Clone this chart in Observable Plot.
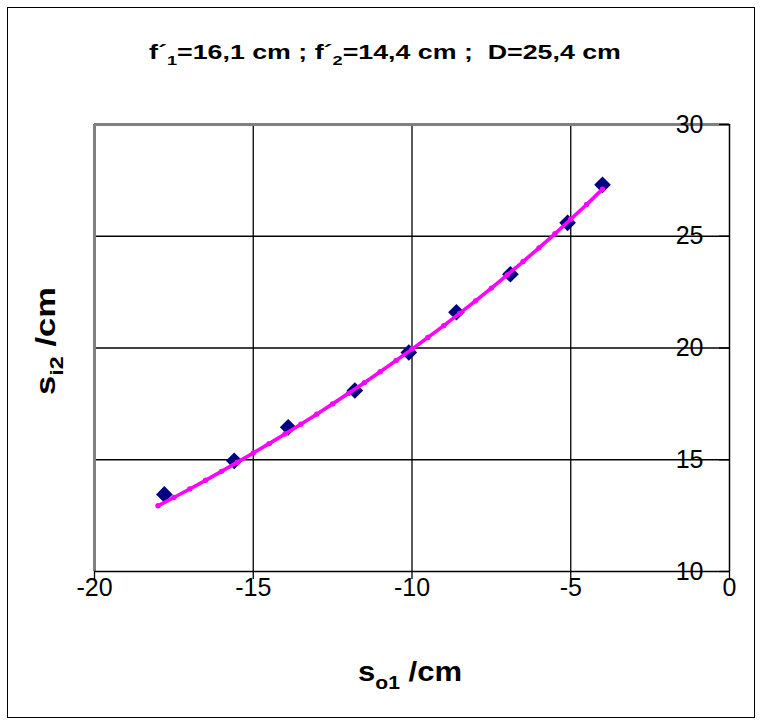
<!DOCTYPE html>
<html><head><meta charset="utf-8">
<script src="https://cdn.jsdelivr.net/npm/d3@7"></script>
<script src="https://cdn.jsdelivr.net/npm/@observablehq/plot@0.6"></script>
<style>body{margin:0;background:#fff;} #chart{position:relative;width:761px;height:724px;}</style>
</head><body><div id="chart"></div>
<script>
const xTicks = [-20, -15, -10, -5, 0];
const yTicks = [10, 15, 20, 25, 30];
const xGrid = [-15, -10, -5];
const yGrid = [15, 20, 25];
const measX = [-17.8, -15.6, -13.9, -11.8, -10.1, -8.6, -6.9, -5.1, -4.0];
const measY = [13.45, 14.95, 16.45, 18.1, 19.8, 21.6, 23.3, 25.6, 27.3];
const curveX = [-18, -17.5, -17, -16.5, -16, -15.5, -15, -14.5, -14, -13.5, -13, -12.5, -12, -11.5, -11, -10.5, -10, -9.5, -9, -8.5, -8, -7.5, -7, -6.5, -6, -5.5, -5, -4.5, -4];
const curveY = [12.94, 13.31, 13.69, 14.08, 14.48, 14.89, 15.30, 15.72, 16.15, 16.59, 17.04, 17.50, 17.97, 18.45, 18.94, 19.44, 19.95, 20.47, 21.00, 21.55, 22.11, 22.68, 23.27, 23.87, 24.48, 25.11, 25.76, 26.42, 27.11];

const meas = measX.map((x, i) => ({x, y: measY[i]}));
const curve = curveX.map((x, i) => ({x, y: curveY[i]}));
const FONT = "'Liberation Sans', Arial, sans-serif";

const svg = Plot.plot({
  width: 761, height: 724,
  marginLeft: 94, marginRight: 32, marginTop: 124, marginBottom: 153,
  style: {fontFamily: FONT, background: "white", overflow: "visible", color: "#000"},
  x: {domain: [-20, 0]},
  y: {domain: [10, 30]},
  marks: [
    Plot.gridX(xGrid, {stroke: "#000", strokeOpacity: 1, strokeWidth: 1.3}),
    Plot.gridY(yGrid, {stroke: "#000", strokeOpacity: 1, strokeWidth: 1.3}),
    Plot.ruleY([30], {stroke: "#808080", strokeWidth: 3}),
    Plot.ruleX([-20], {stroke: "#808080", strokeWidth: 3}),
    Plot.ruleY([10], {stroke: "#000", strokeWidth: 1.5}),
    Plot.ruleX([0], {stroke: "#000", strokeWidth: 1.5}),
    Plot.axisX(xTicks, {anchor: "bottom", tickSize: 8, tickPadding: -1, fontSize: 25, label: null, strokeWidth: 1.3, tickFormat: d => String(d)}),
    Plot.axisY(yTicks, {anchor: "right", tickSize: 11, dx: -11, tickFormat: () => "", label: null, strokeWidth: 1.3}),
    Plot.text(yTicks, {y: d => d, text: d => String(d), frameAnchor: "right", textAnchor: "end", dx: -26, fontSize: 25, fill: "#000"}),
    Plot.dot(meas, {x: "x", y: "y", symbol: "diamond2", r: 7.5, fill: "#000080", stroke: "none"}),
    Plot.line(curve, {x: "x", y: "y", stroke: "#FF00FF", strokeWidth: 3.6, curve: "catmull-rom"}),
    Plot.dot(curve, {x: "x", y: "y", r: 2.7, fill: "#FF00FF", stroke: "none"})
  ]
});
document.getElementById("chart").appendChild(svg);

const s = d3.select(svg);
s.append("rect").attr("x", 7.5).attr("y", 7.5).attr("width", 747).attr("height", 710)
  .attr("fill", "none").attr("stroke", "#000").attr("stroke-width", 1);

function richText(parts, size, cx, cy, targetLen, rotate) {
  const g = s.append("g");
  const t = g.append("text").attr("font-family", FONT).attr("font-weight", "bold")
    .attr("font-size", size).attr("text-anchor", "middle").attr("fill", "#000")
    .style("white-space", "pre");
  let shift = 0;
  for (const [txt, sub] of parts) {
    const want = sub ? size * 0.3 : 0;
    const sp = t.append("tspan").text(txt).attr("dy", want - shift);
    if (sub) sp.attr("font-size", size * 0.68);
    shift = want;
  }
  const w = t.node().getComputedTextLength();
  const k = targetLen / w;
  g.attr("transform", `translate(${cx},${cy})` + (rotate ? ` rotate(${rotate})` : "") + ` scale(${k},1)`);
}

richText([["f\u00b4", false], ["1", true], ["=16,1 cm ; f\u00b4", false], ["2", true], ["=14,4 cm ;  D=25,4 cm", false]], 20, 385, 59, 472);
richText([["s", false], ["o1", true], [" /cm", false]], 28, 410, 681, 104);
richText([["s", false], ["i2", true], [" /cm", false]], 28, 55, 341, 108, -90);
</script>
</body></html>
